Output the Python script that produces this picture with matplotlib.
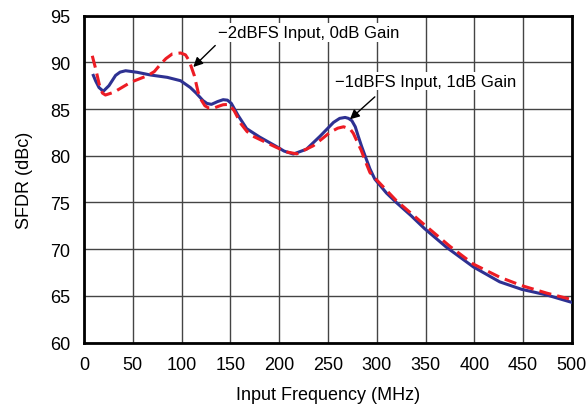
import matplotlib

matplotlib.use("Agg")
import matplotlib.pyplot as plt

# ---------- Data ----------
blue_freq = [9.6, 12, 15.4, 19.8, 25.6, 32.4, 37, 42.7, 54.6, 68.3, 85.4, 99,
             109, 115, 122, 126, 130.6, 137, 142.6, 147, 151, 158, 166.7, 180,
             197, 205, 214.5, 228, 242, 255.7, 262, 267.6, 271, 274.5, 278,
             281, 284.5, 288, 293, 298, 310, 320, 335, 349, 371.5, 399, 426,
             448.5, 474, 500]
blue_sfdr = [88.6, 88.0, 87.3, 86.9, 87.5, 88.6, 88.95, 89.1, 88.93, 88.64,
             88.39, 88.03, 87.3, 86.7, 85.9, 85.6, 85.5, 85.8, 86.0, 85.95,
             85.6, 84.3, 82.9, 82.0, 81.0, 80.5, 80.18, 80.7, 82.1, 83.57,
             84.0, 84.1, 84.0, 83.75, 83.1, 82.1, 81.0, 80.0, 78.6, 77.5, 76.0,
             75.0, 73.6, 72.2, 70.2, 68.1, 66.5, 65.7, 65.1, 64.3]

red_freq = [8.5, 12, 16.4, 19, 22, 30.7, 47.8, 65, 72, 78.5, 84, 90.5, 99, 104,
            107.6, 110, 113, 117, 120, 123.9, 128, 132.4, 138, 142.6, 149, 154,
            161, 167, 173, 185, 197, 208, 218, 235, 245, 252, 260, 266, 272.7,
            276, 279.5, 284, 288, 293, 300, 320, 349, 375, 399, 426, 448.5,
            474, 500]
red_sfdr = [90.7, 89.3, 87.3, 86.7, 86.5, 86.8, 87.86, 88.57, 89.0, 89.8, 90.4,
            90.9, 91.0, 90.8, 90.2, 89.5, 88.6, 86.8, 86.0, 85.35, 85.1, 85.07,
            85.3, 85.46, 85.5, 84.8, 83.4, 82.6, 82.1, 81.5, 80.9, 80.4, 80.2,
            81.07, 81.9, 82.5, 82.95, 83.1, 82.86, 82.4, 81.6, 80.6, 79.5,
            78.2, 77.4, 75.2, 72.6, 70.3, 68.4, 67.0, 66.1, 65.3, 64.6]

x_ticks = list(range(0, 501, 50))
y_ticks = list(range(60, 96, 5))

BLUE = "#2e3192"
RED = "#ed1c24"

plt.rcParams.update({
    "font.family": ["Liberation Sans", "DejaVu Sans"],
    "font.size": 13,
})

fig = plt.figure(figsize=(5.86, 4.10), dpi=100)
ax = fig.add_axes([0.1433, 0.162, 0.8327, 0.7975])

ax.plot(blue_freq, blue_sfdr, color=BLUE, linewidth=2.2, zorder=3)
ax.plot(red_freq, red_sfdr, color=RED, linewidth=2.2, linestyle=(0, (4, 2)),
        zorder=4)

ax.set_xlim(0, 500)
ax.set_ylim(60, 95)
ax.set_xticks(x_ticks)
ax.set_yticks(y_ticks)
ax.tick_params(length=0, pad=10, labelsize=13)
ax.grid(True, color="#444444", linewidth=1.0)
ax.set_axisbelow(True)
for spine in ax.spines.values():
    spine.set_linewidth(2.0)
    spine.set_color("black")

ax.set_xlabel("Input Frequency (MHz)", fontsize=13, labelpad=9)
ax.set_ylabel("SFDR (dBc)", fontsize=13, labelpad=12)

arrow = dict(arrowstyle="-|>", color="black", linewidth=1.0,
             mutation_scale=14, shrinkA=0, shrinkB=0)
box = dict(boxstyle="square,pad=0.1", fc="white", ec="none")
ax.text(137, 93.2, "\u22122dBFS Input, 0dB Gain", ha="left", va="center",
        fontsize=12, bbox=box)
ax.annotate("", xy=(112, 89.5), xytext=(134.5, 91.8), arrowprops=arrow)
ax.text(257, 88.0, "\u22121dBFS Input, 1dB Gain", ha="left", va="center",
        fontsize=12, bbox=box)
ax.annotate("", xy=(272.5, 83.9), xytext=(298, 86.3), arrowprops=arrow)

fig.savefig("out.png", dpi=100)
